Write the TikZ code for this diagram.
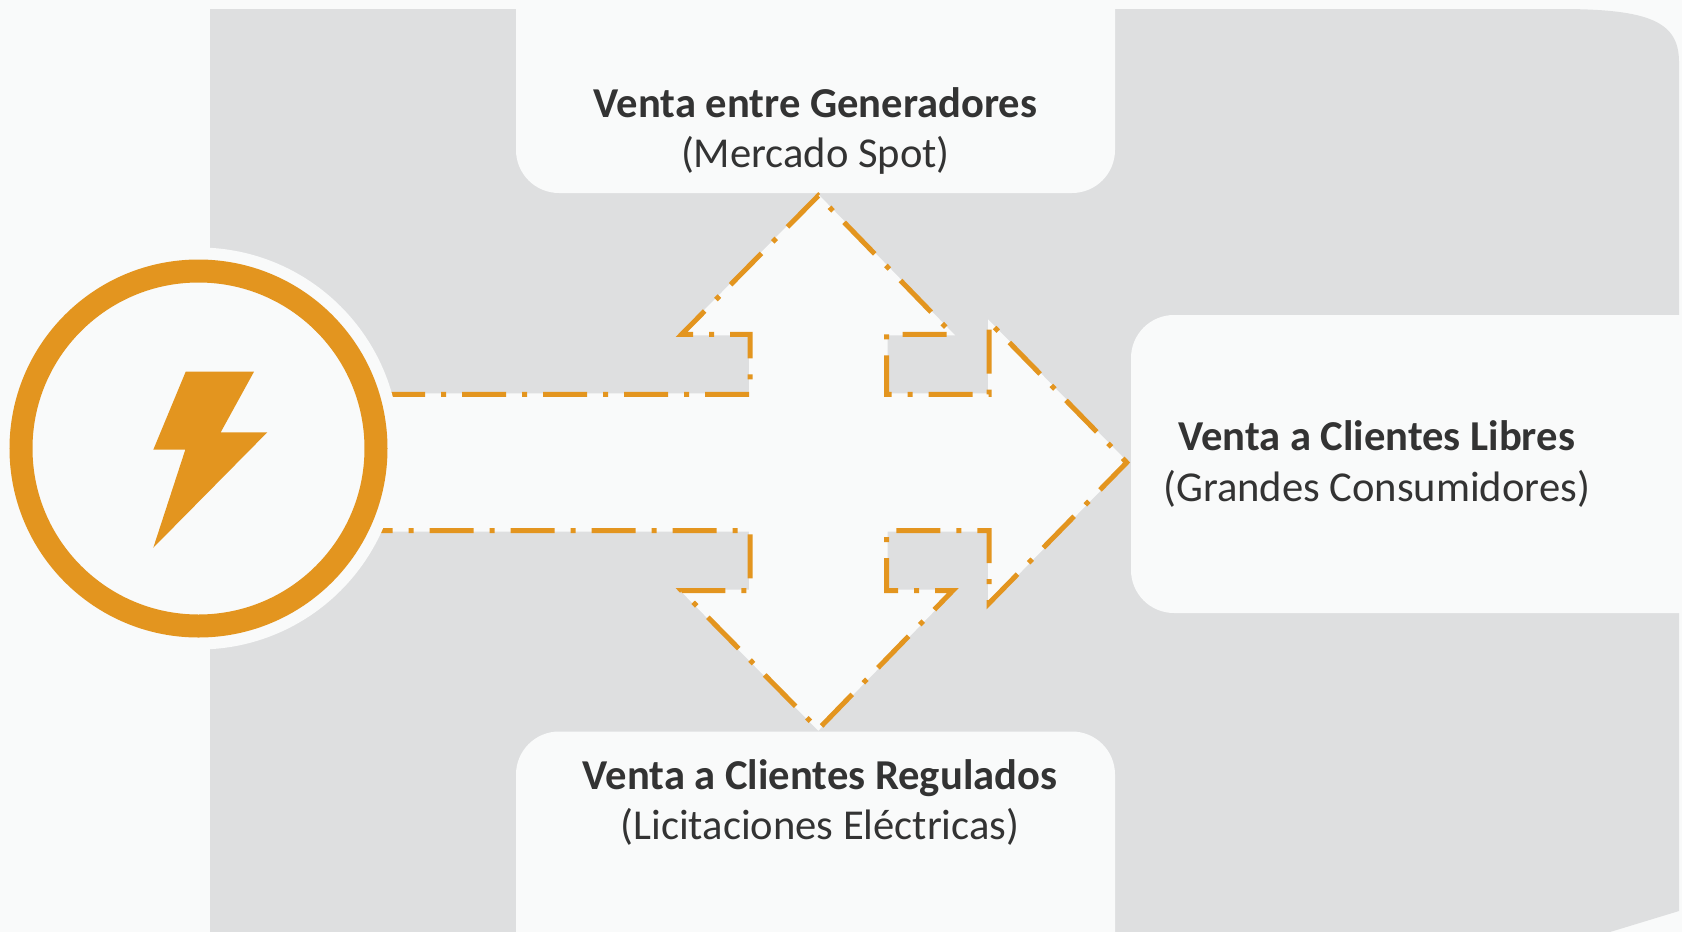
\documentclass[tikz,border=0pt]{standalone}
\usepackage{fontspec}
\setmainfont{Carlito}
\definecolor{bg}{HTML}{F9FAFA}
\definecolor{panel}{HTML}{DEDFE0}
\definecolor{orng}{HTML}{E3951F}
\definecolor{txt}{HTML}{333333}
\begin{document}
\begin{tikzpicture}[x=0.5pt,y=-0.5pt,
  boxfill/.style={fill=bg, rounded corners=21.5pt},
  titletext/.style={font=\fontsize{21.3pt}{25pt}\selectfont\bfseries, text=txt, anchor=base, inner sep=0pt},
  subtext/.style={font=\fontsize{21.3pt}{25pt}\selectfont, text=txt, anchor=base, inner sep=0pt},
  dashdotline/.style={draw=orng, line width=2.5pt, dash pattern=on 22pt off 8pt on 2.5pt off 8pt},
]
\useasboundingbox (0,0) rectangle (1682,932);
\clip (0,0) rectangle (1682,932);
\fill[bg] (0,0) rectangle (1682,932);
% gray panel
\fill[panel] (210,9) -- (1560,9) .. controls (1650,9) and (1679,22) .. (1679,62)
  -- (1679,911) -- (1610,932) -- (210,932) -- cycle;
% white boxes
\fill[boxfill] (516,-80) -- (516,193) -- (1115,193) -- (1115,-80) -- cycle;
\fill[boxfill] (1800,315) -- (1131,315) -- (1131,613) -- (1800,613) -- cycle;
\fill[boxfill] (516,1020) -- (516,731.5) -- (1115,731.5) -- (1115,1020) -- cycle;
% arrow shape
\path[fill=bg, draw=bg, line width=1pt]
  (300,394.3) -- (750,394.3) -- (750,334.3) -- (681.7,334.3) -- (818.3,195.7)
  -- (952.7,334.3) -- (886.7,334.3) -- (886.7,394.3) -- (989,394.3) -- (989,321.7)
  -- (1126.7,462.5) -- (989,603.3) -- (989,530.7) -- (886.7,530.7) -- (886.7,590.7)
  -- (952.7,590.7) -- (818.3,729.3) -- (681.7,590.7) -- (750,590.7) -- (750,530.7)
  -- (300,530.7) -- cycle;
\draw[dashdotline]
  (300,394.3) -- (750,394.3) -- (750,334.3) -- (681.7,334.3) -- (818.3,195.7)
  -- (952.7,334.3) -- (886.7,334.3) -- (886.7,394.3) -- (989,394.3) -- (989,321.7)
  -- (1126.7,462.5) -- (989,603.3) -- (989,530.7) -- (886.7,530.7) -- (886.7,590.7)
  -- (952.7,590.7) -- (818.3,729.3) -- (681.7,590.7) -- (750,590.7) -- (750,530.7)
  -- (300,530.7);
% circle icon
\coordinate (c) at (198.5,448.5);
\fill[bg] (c) circle[radius=100.5pt];
\draw[orng, line width=11.5pt] (c) circle[radius=88.75pt];
\fill[orng] (185.7,371.7) -- (254,371.7) -- (220.7,432.3) -- (267.3,432.3)
  -- (153.3,547.7) -- (185.3,449.7) -- (153.3,449.7) -- cycle;
% texts
\node[titletext] (gen) at (815.5,117.3) {Venta entre Generadores};
\node[subtext] (gensub) at (815.5,167.3) {(Mercado Spot)};
\node[titletext] (lib) at (1376.6,450.7) {Venta a Clientes Libres};
\node[subtext] (libsub) at (1376.6,501.7) {(Grandes Consumidores)};
\node[titletext] (reg) at (820,789) {Venta a Clientes Regulados};
\node[subtext] (regsub) at (820,839) {(Licitaciones Eléctricas)};
\end{tikzpicture}
\end{document}
